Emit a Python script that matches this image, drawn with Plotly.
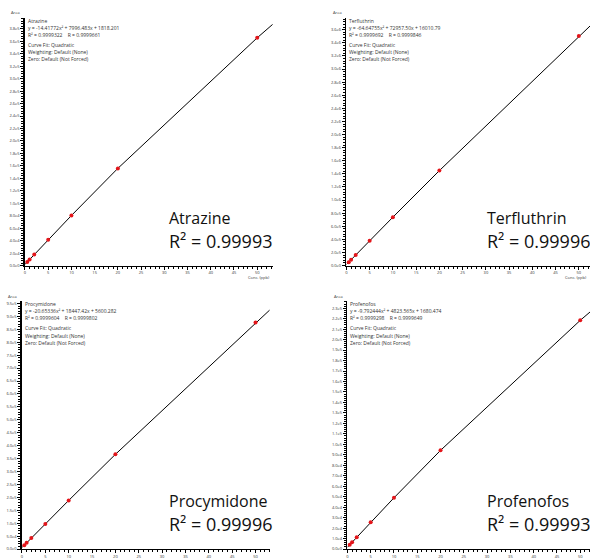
import math
import plotly.graph_objects as go

W, H = 590, 560

# ---------------- data ----------------
conc = [0.5, 1, 2, 5, 10, 20, 50]
atrazine_area = [5810, 9800, 17750, 41440, 80340, 155980, 365600]
terfluthrin_area = [52470, 88900, 161670, 379180, 739120, 1449300, 3502270]
procymidone_area = [14820, 24030, 42410, 97320, 188010, 366290, 876340]
profenofos_area = [4090, 6490, 11290, 25550, 48940, 94230, 218380]

fit_conc = [0, 0.5, 1, 2, 5, 10, 20, 50, 55]
atrazine_fit = [1818, 5813, 9800, 17753, 41440, 80341, 155981, 365598, 398011]
terfluthrin_fit = [16011, 52474, 88904, 161667, 379183, 739121, 1449302, 3502267, 3833115]
procymidone_fit = [5600, 14819, 24027, 42412, 97321, 188009, 366287, 876338, 957731]
profenofos_fit = [1680, 4090, 6494, 11288, 25553, 48937, 94234, 218377, 237354]

names = ["Atrazine", "Terfluthrin", "Procymidone", "Profenofos"]
equations = [
    "y = -14.41772x² + 7996.483x + 1818.201",
    "y = -64.64755x² + 72957.50x + 16010.79",
    "y = -20.65336x² + 18447.42x + 5600.282",
    "y = -9.792444x² + 4823.565x + 1680.474",
]
r_lines = [
    "R² = 0.9999322    R = 0.9999661",
    "R² = 0.9999692    R = 0.9999846",
    "R² = 0.9999604    R = 0.9999802",
    "R² = 0.9999298    R = 0.9999649",
]
r2_big = ["0.99993", "0.99996", "0.99996", "0.99993"]
y_tick_max = [380000, 3600000, 950000, 230000]
y_tick_step = [20000, 200000, 50000, 10000]
x_tick_vals = [0, 5, 10, 15, 20, 25, 30, 35, 40, 45, 50]

areas = [atrazine_area, terfluthrin_area, procymidone_area, profenofos_area]
fits = [atrazine_fit, terfluthrin_fit, procymidone_fit, profenofos_fit]

# ---------------- layout geometry (pixels) ----------------
panels = [
    dict(x0=24, x1=272, yt=17, yb=266, xr=53.3, yr=397500),
    dict(x0=346, x1=590, yt=17, yb=266, xr=52.4, yr=3780000),
    dict(x0=21, x1=269, yt=302, yb=551, xr=53.0, yr=958000),
    dict(x0=347, x1=590, yt=302, yb=551, xr=52.1, yr=236500),
]


def px(x):
    return x / W


def py(y):
    return 1 - y / H


def sci(v):
    if v == 0:
        return "0.0e0"
    e = int(math.floor(math.log10(v) + 1e-9))
    m = v / 10 ** e
    return f"{m:.1f}e{e}"


FONT = "Open Sans"
fig = go.Figure()
annotations = []
layout_axes = {}

for i, p in enumerate(panels):
    n = i + 1
    xa = "x" if n == 1 else f"x{n}"
    ya = "y" if n == 1 else f"y{n}"
    fig.add_trace(go.Scatter(x=fit_conc, y=fits[i], mode="lines",
                             line=dict(color="black", width=1),
                             xaxis=xa, yaxis=ya, showlegend=False,
                             hoverinfo="skip"))
    fig.add_trace(go.Scatter(x=conc, y=areas[i], mode="markers",
                             marker=dict(color="#e3151a", size=4, symbol="circle"),
                             xaxis=xa, yaxis=ya, showlegend=False, cliponaxis=False))

    yvals = list(range(0, y_tick_max[i] + 1, y_tick_step[i]))
    layout_axes["xaxis" if n == 1 else f"xaxis{n}"] = dict(
        domain=[px(p["x0"]), px(p["x1"])], range=[0, p["xr"]],
        anchor=ya, showline=True, linecolor="black", linewidth=1,
        showgrid=False, zeroline=False, ticks="outside", ticklen=3,
        tickcolor="black", tickwidth=1,
        tickvals=x_tick_vals, ticktext=[str(v) for v in x_tick_vals],
        tickfont=dict(size=4, color="#333", family=FONT),
        minor=dict(dtick=1, ticklen=2, ticks="outside", tickcolor="black", showgrid=False),
        fixedrange=True,
    )
    layout_axes["yaxis" if n == 1 else f"yaxis{n}"] = dict(
        domain=[py(p["yb"]), py(p["yt"])], range=[0, p["yr"]],
        anchor=xa, showline=True, linecolor="black", linewidth=1.5,
        showgrid=False, zeroline=False, ticks="outside", ticklen=3,
        tickcolor="black", tickwidth=1,
        tickvals=yvals, ticktext=[sci(v) for v in yvals],
        tickfont=dict(size=4, color="#333", family=FONT),
        minor=dict(dtick=y_tick_step[i] / 5, ticklen=2, ticks="outside",
                   tickcolor="black", showgrid=False),
        fixedrange=True,
    )

    # "Area" label
    annotations.append(dict(x=px(p["x0"] - 9), y=py(p["yt"] - 5), xref="paper", yref="paper",
                            text="Area", showarrow=False, xanchor="center", yanchor="middle",
                            font=dict(size=4, color="#333", family=FONT)))
    # "Conc. (ppb)" label (only visible on the top row in the reference)
    if i < 2:
        annotations.append(dict(x=min(px(p["x1"] - 1), 0.998), y=py(p["yb"] + 12), xref="paper",
                                yref="paper", text="Conc. (ppb)", showarrow=False,
                                xanchor="right", yanchor="middle",
                                font=dict(size=4, color="#333", family=FONT)))
    # info block
    tx = p["x0"] + 1
    info = [(names[i], 3), (equations[i], 10), (r_lines[i], 17),
            ("Curve Fit: Quadratic", 27), ("Weighting: Default (None)", 34.5),
            ("Zero: Default (Not Forced)", 41.5)]
    for txt, dy in info:
        annotations.append(dict(x=px(tx), y=py(p["yt"] + dy), xref="paper", yref="paper",
                                text=txt, showarrow=False, xanchor="left", yanchor="middle",
                                font=dict(size=5, color="#333", family=FONT)))
    # big labels
    bx = 166 if i % 2 == 0 else 485
    annotations.append(dict(x=px(bx), y=py(p["yb"] - 48), xref="paper", yref="paper",
                            text=names[i], showarrow=False, xanchor="left", yanchor="middle",
                            font=dict(size=16, color="#111", family=FONT)))
    annotations.append(dict(x=px(bx), y=py(p["yb"] - 25), xref="paper", yref="paper",
                            text="R² = " + r2_big[i], showarrow=False, xanchor="left",
                            yanchor="middle",
                            font=dict(size=18, color="#111", family=FONT)))

fig.update_layout(
    width=W, height=H, margin=dict(l=0, r=0, t=0, b=0),
    paper_bgcolor="white", plot_bgcolor="white",
    annotations=annotations, showlegend=False,
    font=dict(family=FONT),
    **layout_axes,
)

fig.write_html("out.html",
               config={"displayModeBar": False, "staticPlot": True},
               post_script="document.body.style.margin='0';document.body.style.padding='0';")
